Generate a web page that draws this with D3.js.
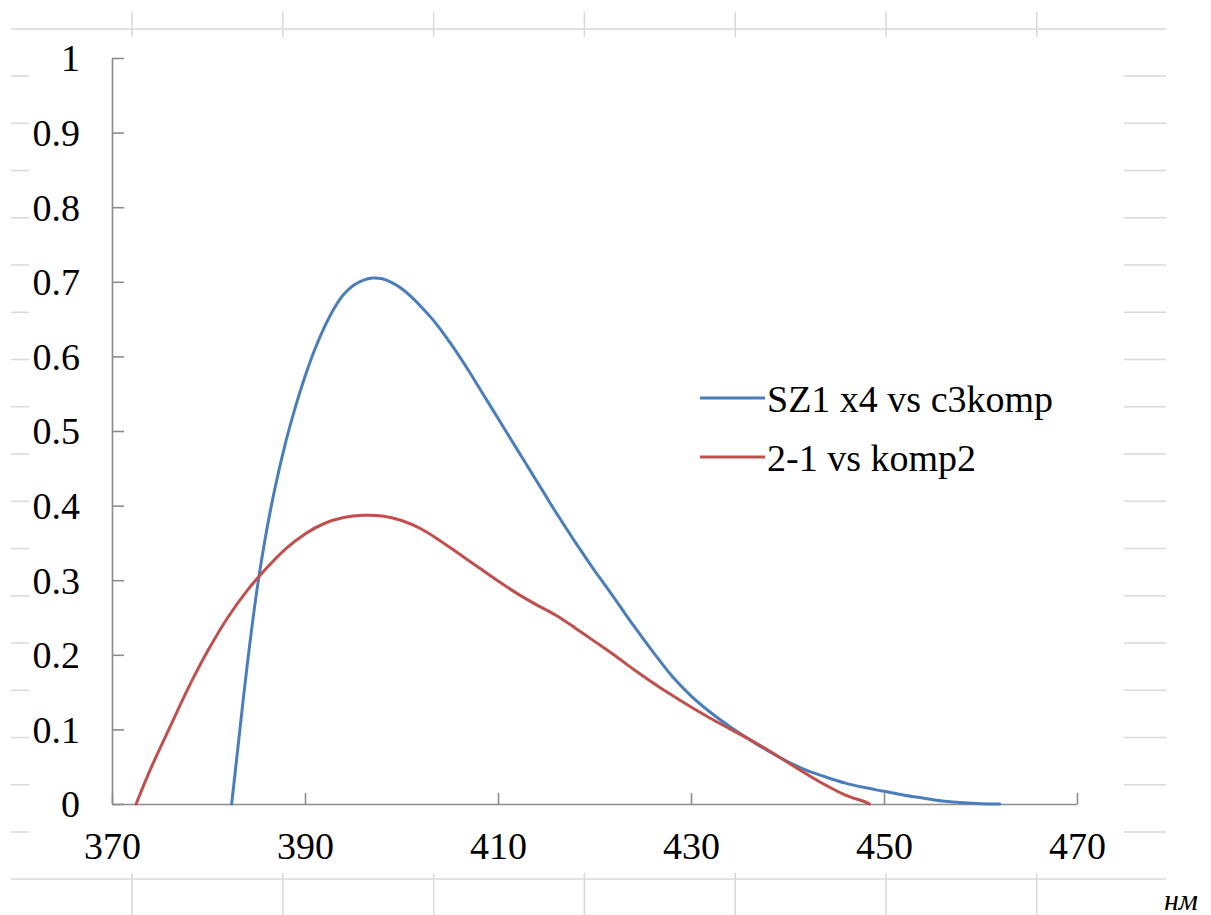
<!DOCTYPE html>
<html>
<head>
<meta charset="utf-8">
<script src="https://cdn.jsdelivr.net/npm/d3@7"></script>
<style>
  html, body { margin: 0; padding: 0; background: #fff; }
  svg { display: block; }
</style>
</head>
<body>
<svg id="chart" width="1211" height="915"></svg>
<script>
// ---- data ----
const xTicks = [370, 390, 410, 430, 450, 470];
const yTicks = [0, 0.1, 0.2, 0.3, 0.4, 0.5, 0.6, 0.7, 0.8, 0.9, 1];

const seriesNames = ["SZ1 x4 vs c3komp", "2-1 vs komp2"];
const unitLabel = "нм";

const blueX = [382.4, 383, 384, 385, 386, 387, 388, 389, 390, 391, 392, 393, 394, 395, 396, 397, 398, 399, 400, 401, 402, 403, 404, 405, 406, 407, 408, 409, 410, 411, 412, 413, 414, 415, 416, 417, 418, 419, 420, 421, 422, 424, 426, 428, 430, 432, 434, 436, 438, 440, 442, 444, 446, 448, 450, 452, 454, 456, 458, 460, 462];
const blueY = [0, 0.07, 0.185, 0.285, 0.365, 0.43, 0.485, 0.532, 0.573, 0.609, 0.639, 0.664, 0.683, 0.695, 0.702, 0.705, 0.704, 0.699, 0.691, 0.68, 0.667, 0.653, 0.637, 0.619, 0.6, 0.58, 0.559, 0.538, 0.517, 0.496, 0.475, 0.454, 0.433, 0.412, 0.391, 0.371, 0.351, 0.332, 0.313, 0.295, 0.277, 0.24, 0.205, 0.172, 0.145, 0.123, 0.104, 0.087, 0.071, 0.057, 0.045, 0.036, 0.028, 0.022, 0.017, 0.012, 0.008, 0.004, 0.002, 0.0005, 0];

const redX = [372.5, 374, 376, 378, 380, 382, 384, 386, 388, 390, 392, 394, 396, 398, 400, 402, 404, 406, 408, 410, 412, 414, 416, 418, 420, 422, 424, 426, 428, 430, 432, 434, 436, 438, 440, 442, 444, 446, 448, 448.5];
const redY = [0, 0.047, 0.103, 0.158, 0.207, 0.25, 0.286, 0.316, 0.342, 0.362, 0.376, 0.384, 0.387, 0.386, 0.38, 0.369, 0.353, 0.335, 0.317, 0.299, 0.282, 0.267, 0.253, 0.236, 0.218, 0.2, 0.181, 0.163, 0.146, 0.13, 0.115, 0.101, 0.087, 0.072, 0.056, 0.04, 0.025, 0.012, 0.003, 0];

const colors = ["#4a7ebb", "#c0504d"];

// ---- drawing ----
const FONT = "Liberation Serif";
const svg = d3.select("#chart");
const x = d3.scaleLinear().domain([370, 470]).range([112, 1077]);
const y = d3.scaleLinear().domain([0, 1]).range([804, 58]);

// faint background cell lines (decoration of the original sheet)
const deco = svg.append("g").attr("stroke", "#d9d9d9").attr("stroke-width", 1.5);
const colXs = d3.range(7).map(i => 132 + i * 150.8);
const rowYs = d3.range(17).map(i => 76 + i * 47.25);
deco.append("line").attr("x1", 11).attr("x2", 1166).attr("y1", 29).attr("y2", 29);
deco.append("line").attr("x1", 11).attr("x2", 1166).attr("y1", 879).attr("y2", 879);
colXs.forEach(cx => {
  deco.append("line").attr("x1", cx).attr("x2", cx).attr("y1", 12).attr("y2", 37);
  deco.append("line").attr("x1", cx).attr("x2", cx).attr("y1", 873).attr("y2", 915);
});
rowYs.forEach(ry => {
  deco.append("line").attr("x1", 11).attr("x2", 29).attr("y1", ry).attr("y2", ry);
  deco.append("line").attr("x1", 1124).attr("x2", 1166).attr("y1", ry).attr("y2", ry);
});

// axes
const yAxis = d3.axisLeft(y).tickValues(yTicks).tickSizeInner(-12).tickSizeOuter(0)
  .tickPadding(32).tickFormat(d => String(+d.toFixed(1)));
const gy = svg.append("g").attr("transform", `translate(${x(370)},0)`).call(yAxis);

const xAxis = d3.axisBottom(x).tickValues(xTicks).tickSizeInner(-11).tickSizeOuter(0)
  .tickPadding(28).tickFormat(d3.format("d"));
const gx = svg.append("g").attr("transform", `translate(0,${y(0)})`).call(xAxis);

[gx, gy].forEach(g => {
  g.attr("font-family", FONT).attr("font-size", 38);
  g.selectAll("path.domain").attr("stroke", "#8c8c8c").attr("stroke-width", 1.6);
  g.selectAll(".tick line").attr("stroke", "#8c8c8c").attr("stroke-width", 1.6);
  g.selectAll(".tick text").attr("fill", "#000").attr("font-family", FONT).attr("font-size", 38);
});
gy.selectAll(".tick text").attr("dy", "0.34em");

// lines
const line = d3.line().x(d => x(d[0])).y(d => y(d[1])).curve(d3.curveCatmullRom.alpha(0.5));
const series = [
  blueX.map((v, i) => [v, blueY[i]]),
  redX.map((v, i) => [v, redY[i]])
];
series.forEach((s, i) => {
  svg.append("path").datum(s).attr("d", line)
    .attr("fill", "none").attr("stroke", colors[i]).attr("stroke-width", 3)
    .attr("stroke-linejoin", "round").attr("stroke-linecap", "round");
});

// legend
const legend = svg.append("g");
seriesNames.forEach((name, i) => {
  const ly = 398 + i * 59;
  legend.append("line").attr("x1", 700).attr("x2", 765).attr("y1", ly).attr("y2", ly)
    .attr("stroke", colors[i]).attr("stroke-width", 3);
  legend.append("text").attr("x", 767).attr("y", ly).attr("dy", "0.36em")
    .attr("font-family", FONT).attr("font-size", 38).attr("fill", "#000").text(name);
});

// unit label
svg.append("text").attr("x", 1198).attr("y", 910).attr("text-anchor", "end")
  .attr("font-family", FONT).attr("font-size", 30).attr("font-style", "italic")
  .attr("fill", "#000").text(unitLabel);
</script>
</body>
</html>
